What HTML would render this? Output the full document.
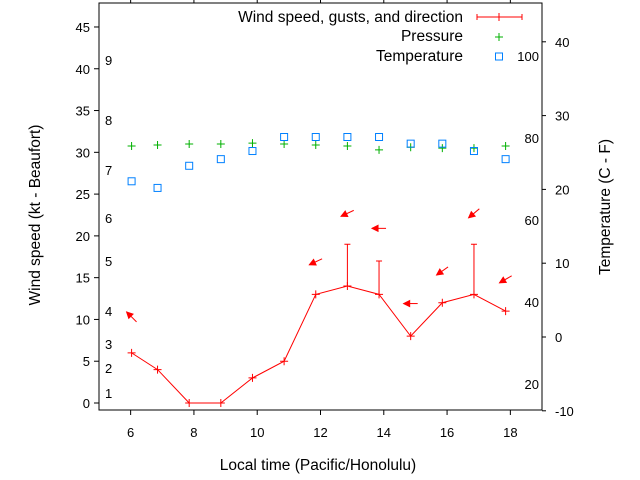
<!DOCTYPE html>
<html><head><meta charset="utf-8"><style>
body{margin:0;background:#fff}
svg{display:block;font-family:"Liberation Sans",sans-serif;font-size:13px}
.big{font-size:15.5px}
</style></head><body>
<svg id="c" width="640" height="480"></svg>
<script>
const times=[6.03,6.85,7.85,8.85,9.85,10.85,11.85,12.85,13.85,14.85,15.85,16.85,17.85];
const wind=[6,4,0,0,3,5,13,14,13,8,12,13,11];
const gusts=[null,null,null,null,null,null,null,19,17,null,null,19,null];
const arrowTimes=[6.03,11.85,12.85,13.85,14.85,15.85,16.85,17.85];
const arrowLevel=[10.3,16.9,22.7,20.9,11.9,15.8,22.7,14.8];
const arrowAngle=[135,205,205,180,180,215,220,210];
const pressure=[30.75,30.87,31.0,31.0,31.1,31.0,30.87,30.75,30.3,30.6,30.5,30.5,30.75];
const tempC=[21.1,20.2,23.2,24.1,25.2,27.1,27.1,27.1,27.1,26.2,26.2,25.2,24.1];
const xTicks=[6,8,10,12,14,16,18];
const yTicks=[0,5,10,15,20,25,30,35,40,45];
const cTicks=[-10,0,10,20,30,40];
const fTicks=[20,40,60,80,100];
const beaufort=[[1,393],[2,368],[3,344],[4,311],[5,261],[6,218],[7,170],[8,120],[9,60]];

const L=99,R=542,T=3,B=410;
const X=t=>L+(t-5)*(R-L)/14;
const Y=v=>403-v*8.356;
const YC=c=>337-c*7.38;
const YF=f=>YC((f-32)*5/9);
const svg=document.getElementById('c');
const NS='http://www.w3.org/2000/svg';
function el(tag,attrs,parent){const e=document.createElementNS(NS,tag);for(const k in attrs)e.setAttribute(k,attrs[k]);(parent||svg).appendChild(e);return e;}
function txt(x,y,s,anchor,parent){const e=el('text',{x:x,y:y,'text-anchor':anchor||'start'},parent);e.textContent=s;return e;}

const frame=el('rect',{x:L,y:T,width:R-L,height:B-T,fill:'none',stroke:'#000','stroke-width':1});


const xa=el('g',{});
xTicks.forEach(t=>{el('line',{x1:X(t),x2:X(t),y1:B,y2:B+5,stroke:'#000'},xa);el('line',{x1:X(t),x2:X(t),y1:T,y2:T-5,stroke:'#000'},xa);txt(X(t),437,String(t),'middle',xa);});
const ya=el('g',{});
yTicks.forEach(v=>{el('line',{x1:L-5,x2:L,y1:Y(v),y2:Y(v),stroke:'#000'},ya);txt(90,Y(v)+5,String(v),'end',ya);});
const bf=el('g',{});
beaufort.forEach(b=>txt(105,b[1]+5,String(b[0]),'start',bf));
const ra=el('g',{});
cTicks.forEach(c=>{el('line',{x1:R,x2:R+4,y1:YC(c),y2:YC(c),stroke:'#000'},ra);txt(555,YC(c)+5,String(c),'start',ra);});
const fa=el('g',{});
fTicks.forEach(f=>txt(539,YF(f)+3,String(f),'end',fa));

const xt=txt(318,470,'Local time (Pacific/Honolulu)','middle');xt.setAttribute('class','big');
const yt=txt(0,0,'Wind speed (kt - Beaufort)','middle');yt.setAttribute('class','big');yt.setAttribute('transform','translate(40,215) rotate(-90)');
const rt=txt(0,0,'Temperature (C - F)','middle');rt.setAttribute('class','big');rt.setAttribute('transform','translate(610,207) rotate(-90)');

// pressure
const pg=el('g',{stroke:'#00b000','stroke-width':1});
times.forEach((t,i)=>{const x=X(t),y=Y(pressure[i]);el('path',{d:`M${x-4},${y}H${x+4}M${x},${y-4}V${y+4}`},pg);});
// temperature
const tg=el('g',{stroke:'#0080ff',fill:'none'});
times.forEach((t,i)=>{el('rect',{x:X(t)-3.5,y:YC(tempC[i])-3.5,width:7,height:7},tg);});
// wind line
const wg=el('g',{stroke:'#f00',fill:'none'});
el('polyline',{points:times.map((t,i)=>X(t)+','+Y(wind[i])).join(' ')},wg);
times.forEach((t,i)=>{const x=X(t),y=Y(wind[i]);el('path',{d:`M${x-4},${y}H${x+4}M${x},${y-4}V${y+4}`},wg);
 if(gusts[i]!=null){const g=Y(gusts[i]);el('path',{d:`M${x},${y}V${g}M${x-3},${g}H${x+3}`},wg);}});
// arrows
const ag=el('g',{stroke:'#f00',fill:'#f00'});
arrowTimes.forEach((t,i)=>{const cx=X(t),cy=Y(arrowLevel[i]);const a=arrowAngle[i]*Math.PI/180;const dx=Math.cos(a)*7,dy=-Math.sin(a)*7;
 const hx=cx+dx,hy=cy+dy;el('line',{x1:cx-dx,y1:cy-dy,x2:hx,y2:hy},ag);
 const ux=dx/7,uy=dy/7;const bx=hx-ux*6,by=hy-uy*6;
 el('polygon',{points:`${hx},${hy} ${bx-uy*3},${by+ux*3} ${bx+uy*3},${by-ux*3}`},ag);});

// legend
const lg=el('g',{class:'big'});
txt(463,22,'Wind speed, gusts, and direction','end',lg);
el('path',{d:'M477,17H522M477,14V20M522,14V20M499,13V21',stroke:'#f00',fill:'none'},lg);
txt(463,41,'Pressure','end',lg);
el('path',{d:'M495,37H503M499,33V41',stroke:'#00b000'},lg);
txt(463,61,'Temperature','end',lg);
el('rect',{x:495.5,y:53,width:7,height:7,fill:'none',stroke:'#0080ff'},lg);
</script>
</body></html>
